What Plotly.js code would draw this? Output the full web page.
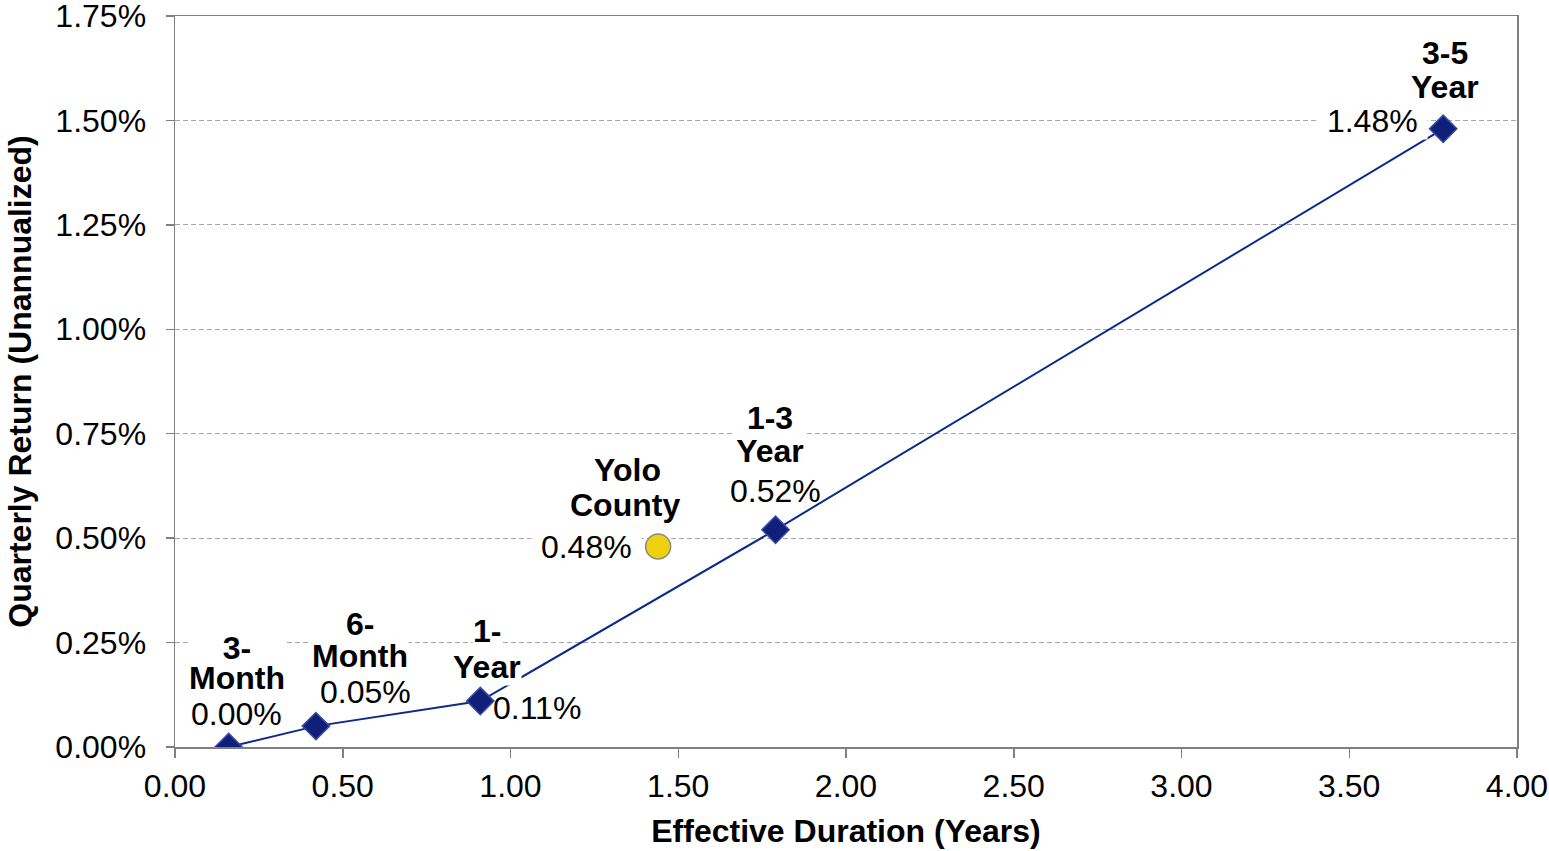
<!DOCTYPE html>
<html>
<head>
<meta charset="utf-8">
<script src="https://cdn.plot.ly/plotly-3.0.1.min.js"></script>
<style>html,body{margin:0;padding:0;background:#fff;}#chart{width:1549px;height:851px;}</style>
</head>
<body>
<div id="chart"></div>
<script>
// Benchmark indices
const indexNameTop = ['3-', '6-', '1-', '1-3', '3-5'];
const indexNameBottom = ['Month', 'Month', 'Year', 'Year', 'Year'];
const indexDuration = [0.16, 0.42, 0.91, 1.79, 3.78];
const indexReturn = [0.00, 0.05, 0.11, 0.52, 1.48];
// Portfolio
const portfolioNameTop = 'Yolo';
const portfolioNameBottom = 'County';
const portfolioDuration = [1.44];
const portfolioReturn = [0.48];
// Axis ticks
const xTicks = [0, 0.5, 1, 1.5, 2, 2.5, 3, 3.5, 4];
const yTicks = [0, 0.25, 0.5, 0.75, 1.0, 1.25, 1.5, 1.75];

const FONT = '"Liberation Sans", Arial, sans-serif';
const FS = 32;
const fmt = v => v.toFixed(2) + '%';

const traces = [
  {
    x: indexDuration, y: indexReturn, type: 'scatter', mode: 'lines+markers',
    line: {color: '#0B2A8A', width: 2},
    marker: {symbol: 'diamond', size: 21, color: '#0F1F7A', line: {color: '#3B4BA0', width: 1.5}},
    hoverinfo: 'skip', showlegend: false
  },
  {
    x: portfolioDuration, y: portfolioReturn, type: 'scatter', mode: 'markers',
    marker: {symbol: 'circle', size: 25, color: '#EDD10A', line: {color: '#8A8A8A', width: 1.5}},
    hoverinfo: 'skip', showlegend: false
  }
];

// label placement (pixel offsets from point: [dx, dy up])
const placeTop = [[8, 99], [44, 102], [7, 70], [-6, 112], [2, 76]];
const placeBottom = [[8, 69], [44, 70], [7, 34], [-6, 79], [2, 42]];
const placeValue = [[8, 33], [50, 34], [57, -7], [0, 39], [-71, 8]];
const lineWidth = [94, null, null, 72, null];

function ann(x, y, text, dx, dy, opts) {
  return Object.assign({
    x: x, y: y, xref: 'x', yref: 'y', text: text, showarrow: false,
    xanchor: 'center', yanchor: 'middle', xshift: dx, yshift: dy,
    bgcolor: '#ffffff', borderpad: 0, font: {family: FONT, size: FS, color: '#000'}
  }, opts || {});
}

const annotations = [];
indexDuration.forEach((xv, i) => {
  const yv = indexReturn[i];
  const w = lineWidth[i] ? {width: lineWidth[i]} : {};
  annotations.push(ann(xv, yv, '<b>' + indexNameTop[i] + '</b>', placeTop[i][0], placeTop[i][1], w));
  annotations.push(ann(xv, yv, '<b>' + indexNameBottom[i] + '</b>', placeBottom[i][0], placeBottom[i][1], w));
  if (i === 4) {
    annotations.push(ann(xv, yv, '\u00a0' + fmt(yv) + '\u00a0', placeValue[i][0], placeValue[i][1]));
  } else {
    annotations.push(ann(xv, yv, fmt(yv), placeValue[i][0], placeValue[i][1], {bgcolor: 'rgba(255,255,255,0)'}));
  }
});
annotations.push(ann(portfolioDuration[0], portfolioReturn[0], '<b>' + portfolioNameTop + '</b>', -31, 77));
annotations.push(ann(portfolioDuration[0], portfolioReturn[0], '<b>' + portfolioNameBottom + '</b>', -33, 42));
annotations.push(ann(portfolioDuration[0], portfolioReturn[0], '\u00a0' + fmt(portfolioReturn[0]) + '\u00a0', -72, 0));

const layout = {
  width: 1549, height: 851,
  margin: {l: 175, r: 32, t: 16, b: 104, pad: 0},
  paper_bgcolor: '#fff', plot_bgcolor: '#fff',
  font: {family: FONT, color: '#000'},
  xaxis: {
    range: [0, 4], tickvals: xTicks, ticktext: xTicks.map(v => v.toFixed(2)),
    showgrid: false, zeroline: false,
    showline: true, linecolor: '#808080', linewidth: 1.5, mirror: true,
    ticks: 'outside', ticklen: 9, tickcolor: '#808080', tickwidth: 1.5,
    ticklabelstandoff: 1, ticklabeloverflow: 'allow',
    tickfont: {family: FONT, size: FS, color: '#000'},
    title: {text: '<b>Effective Duration (Years)</b>', font: {family: FONT, size: FS, color: '#000'}, standoff: 16}
  },
  yaxis: {
    range: [0, 1.75], tickvals: yTicks, ticktext: yTicks.map(fmt),
    showgrid: true, gridcolor: '#A6A6A6', griddash: '5px,3px', gridwidth: 1,
    zeroline: false,
    showline: true, linecolor: '#808080', linewidth: 1.5, mirror: true,
    ticks: 'outside', ticklen: 8, tickcolor: '#808080', tickwidth: 1.5,
    ticklabelstandoff: 13, ticklabeloverflow: 'allow',
    tickfont: {family: FONT, size: FS, color: '#000'},
    title: {text: '<b>Quarterly Return (Unannualized)</b>', font: {family: FONT, size: FS, color: '#000'}, standoff: 14}
  },
  annotations: annotations
};

Plotly.newPlot('chart', traces, layout, {displayModeBar: false, staticPlot: true});
</script>
</body>
</html>
